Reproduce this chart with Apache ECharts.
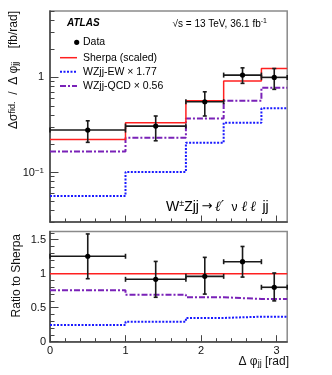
<!DOCTYPE html>
<html><head><meta charset="utf-8">
<script src="https://cdn.jsdelivr.net/npm/echarts@6/dist/echarts.min.js"></script>
<style>html,body{margin:0;padding:0;background:#fff}#c{width:332px;height:375px}</style>
</head><body><div id="c"></div>
<script>
// ---- data ----
const binEdges = [0, 1, 1.8, 2.3, 2.8, 3.1416];
const binCenters = [0.5, 1.4, 2.05, 2.55, 2.97];

const dataXsec = [0.279, 0.307, 0.554, 1.057, 1.0];
const dataXsecLow = [0.207, 0.215, 0.392, 0.865, 0.748];
const dataXsecHigh = [0.349, 0.392, 0.705, 1.26, 1.24];
const sherpaXsec = [0.222, 0.333, 0.567, 0.914, 1.24];
const ewXsec = [0.0562, 0.101, 0.205, 0.333, 0.472];
const qcdXsec = [0.166, 0.231, 0.370, 0.567, 0.778];

const dataRatio = [1.256, 0.917, 0.961, 1.176, 0.80];
const dataRatioLow = [0.926, 0.653, 0.70, 0.95, 0.60];
const dataRatioHigh = [1.584, 1.18, 1.24, 1.40, 1.01];
const sherpaRatio = [1, 1, 1, 1, 1];
const ewRatio = [0.246, 0.294, 0.349, 0.368, 0.368];
const qcdRatio = [0.756, 0.69, 0.653, 0.628, 0.628];

const xMajorTicks = [0, 1, 2, 3];
const xMinorTicks = [0.2, 0.4, 0.6, 0.8, 1.2, 1.4, 1.6, 1.8, 2.2, 2.4, 2.6, 2.8, 3.0];
const topMajorTicks = [0.1, 1];
const topMinorTicks = [0.03, 0.04, 0.05, 0.06, 0.07, 0.08, 0.09, 0.2, 0.3, 0.4, 0.5, 0.6, 0.7, 0.8, 0.9, 2, 3, 4, 5];
const ratioMajorTicks = [0, 0.5, 1, 1.5];
const ratioMinorTicks = [0.1, 0.2, 0.3, 0.4, 0.6, 0.7, 0.8, 0.9, 1.1, 1.2, 1.3, 1.4, 1.6];

const legendNames = ['Data', 'Sherpa (scaled)', 'WZjj-EW \u00d7 1.77', 'WZjj-QCD \u00d7 0.56'];

// ---- style ----
const FONT = '"Liberation Sans", Arial, Helvetica, sans-serif';
const RED = '#ff2020', BLUE = '#1a1aff', PURPLE = '#7a22b8';
const BLUE_DASH = [2, 1.5], PURPLE_DASH = [6, 2, 2, 2];

const chart = echarts.init(document.getElementById('c'), null, {renderer: 'canvas'});

function histData(vals) {
  return binEdges.map((e, i) => [e, vals[Math.min(i, vals.length - 1)]]);
}
function histSeries(name, vals, xi, yi, color, width, dash, z) {
  return {
    name, type: 'line', step: 'end', xAxisIndex: xi, yAxisIndex: yi,
    data: histData(vals), symbol: 'none', showSymbol: false, silent: true,
    animation: false, z: z || 2,
    lineStyle: {color, width, type: dash || 'solid', cap: 'butt'}
  };
}
function errSeries(vals, lows, highs, xi, yi) {
  const data = vals.map((v, i) => [binCenters[i], v, binEdges[i], binEdges[i + 1], lows[i], highs[i]]);
  return {
    type: 'custom', xAxisIndex: xi, yAxisIndex: yi, data, z: 10, silent: true, animation: false,
    encode: {x: [0, 2, 3], y: [1, 4, 5]},
    renderItem(params, api) {
      const c = api.coord([api.value(0), api.value(1)]);
      const l = api.coord([api.value(2), api.value(1)]);
      const r = api.coord([api.value(3), api.value(1)]);
      const lo = api.coord([api.value(0), api.value(4)]);
      const hi = api.coord([api.value(0), api.value(5)]);
      const st = {stroke: '#1a1a1a', lineWidth: 1.6};
      const cap = 2.5;
      return {type: 'group', children: [
        {type: 'line', shape: {x1: l[0], y1: c[1], x2: r[0], y2: c[1]}, style: st},
        {type: 'line', shape: {x1: l[0], y1: c[1] - cap, x2: l[0], y2: c[1] + cap}, style: st},
        {type: 'line', shape: {x1: r[0], y1: c[1] - cap, x2: r[0], y2: c[1] + cap}, style: st},
        {type: 'line', shape: {x1: c[0], y1: lo[1], x2: c[0], y2: hi[1]}, style: st},
        {type: 'line', shape: {x1: c[0] - 2, y1: lo[1], x2: c[0] + 2, y2: lo[1]}, style: st},
        {type: 'line', shape: {x1: c[0] - 2, y1: hi[1], x2: c[0] + 2, y2: hi[1]}, style: st},
        {type: 'circle', shape: {cx: c[0], cy: c[1], r: 2.6}, style: {fill: '#000'}}
      ]};
    }
  };
}

const AXCOL = '#444';
function xAxisDef(grid, major, labels) {
  return {
    type: 'value', gridIndex: grid, min: 0, max: 3.1416, position: 'bottom',
    axisLine: {show: major, onZero: false, lineStyle: {color: AXCOL, width: 1.5}},
    axisTick: {show: true, inside: true, length: major ? 6.5 : 3.5,
      customValues: major ? xMajorTicks : xMinorTicks, lineStyle: {color: AXCOL, width: 1}},
    axisLabel: {show: labels, customValues: xMajorTicks, margin: 4, fontSize: 11,
      fontFamily: FONT, color: '#111'},
    splitLine: {show: false}
  };
}
function txt(x, y, text, size, extra) {
  return {type: 'text', x, y, silent: true,
    style: Object.assign({text, fontFamily: FONT, fontSize: size, fill: '#000', textVerticalAlign: 'middle'}, extra || {})};
}

const richY = {
  m: {fontSize: 12, fontFamily: FONT, lineHeight: 12, verticalAlign: 'middle', fill: '#111'},
  sup: {fontSize: 9, fontFamily: FONT, lineHeight: 9, verticalAlign: 'top', fill: '#111'},
  sub: {fontSize: 9, fontFamily: FONT, lineHeight: 9, verticalAlign: 'bottom', fill: '#111'}
};

const option = {
  animation: false,
  backgroundColor: '#fff',
  grid: [
    {left: 50, top: 11, right: 44.8, height: 211, show: true, borderColor: '#8a8a8a', borderWidth: 1.5},
    {left: 50, top: 231.5, right: 44.8, height: 110.2, show: true, borderColor: '#8a8a8a', borderWidth: 1.5}
  ],
  xAxis: [
    xAxisDef(0, true, false),
    xAxisDef(0, false, false),
    xAxisDef(1, true, true),
    xAxisDef(1, false, false)
  ],
  yAxis: [
    {type: 'log', logBase: 10, gridIndex: 0, min: 0.03, max: 5, position: 'left',
      axisLine: {show: true, onZero: false, lineStyle: {color: AXCOL, width: 1.5}},
      axisTick: {show: true, inside: true, length: 8.5, customValues: topMajorTicks, lineStyle: {color: AXCOL}},
      axisLabel: {customValues: topMajorTicks, margin: 6, fontSize: 11, fontFamily: FONT, color: '#111',
        lineHeight: 16,
        formatter: v => v < 0.5 ? '{m|10}{sup|\u22121}' : '1',
        rich: {m: {fontSize: 11, fontFamily: FONT, lineHeight: 12, verticalAlign: 'bottom', color: '#111'},
               sup: {fontSize: 8, fontFamily: FONT, lineHeight: 8, verticalAlign: 'top', color: '#111'}}},
      splitLine: {show: false}},
    {type: 'log', logBase: 10, gridIndex: 0, min: 0.03, max: 5, position: 'left',
      axisLine: {show: false},
      axisTick: {show: true, inside: true, length: 4.5, customValues: topMinorTicks, lineStyle: {color: AXCOL}},
      axisLabel: {show: false}, splitLine: {show: false}},
    {type: 'value', gridIndex: 1, min: 0, max: 1.62, position: 'left',
      axisLine: {show: true, onZero: false, lineStyle: {color: AXCOL, width: 1.5}},
      axisTick: {show: true, inside: true, length: 8.5, customValues: ratioMajorTicks, lineStyle: {color: AXCOL}},
      axisLabel: {customValues: ratioMajorTicks, margin: 4, fontSize: 11, fontFamily: FONT, color: '#111',
        formatter: v => String(v)},
      splitLine: {show: false}},
    {type: 'value', gridIndex: 1, min: 0, max: 1.62, position: 'left',
      axisLine: {show: false},
      axisTick: {show: true, inside: true, length: 4.5, customValues: ratioMinorTicks, lineStyle: {color: AXCOL}},
      axisLabel: {show: false}, splitLine: {show: false}}
  ],
  series: [
    histSeries(legendNames[2], ewXsec, 0, 0, BLUE, 2, BLUE_DASH, 3),
    histSeries(legendNames[3], qcdXsec, 0, 0, PURPLE, 2, PURPLE_DASH, 3),
    histSeries(legendNames[1], sherpaXsec, 0, 0, RED, 1.5, 'solid', 4),
    errSeries(dataXsec, dataXsecLow, dataXsecHigh, 0, 0),
    histSeries(legendNames[2], ewRatio, 2, 2, BLUE, 2, BLUE_DASH, 3),
    histSeries(legendNames[3], qcdRatio, 2, 2, PURPLE, 2, PURPLE_DASH, 3),
    histSeries(legendNames[1], sherpaRatio, 2, 2, RED, 1.5, 'solid', 4),
    errSeries(dataRatio, dataRatioLow, dataRatioHigh, 2, 2)
  ],
  graphic: [
    // y title (top)
    {type: 'text', x: 14, y: 11, rotation: Math.PI / 2, silent: true,
      style: {text: '{m|\u0394\u03c3}{sup|fid.}{m|  /  \u0394 \u03c6}{sub|jj}{m|    [fb/rad]}', textAlign: 'right', textVerticalAlign: 'middle',
        lineHeight: 22, fill: '#111', fontFamily: FONT, fontSize: 12, rich: richY}},
    // y title (ratio)
    {type: 'text', x: 17, y: 234, rotation: Math.PI / 2, silent: true,
      style: {text: 'Ratio to Sherpa', textAlign: 'right', textVerticalAlign: 'middle',
        fill: '#111', fontFamily: FONT, fontSize: 12}},
    // x title
    {type: 'text', x: 289, y: 362, silent: true,
      style: {text: '{m|\u0394 \u03c6}{sub|jj}{m| [rad]}', textAlign: 'right', textVerticalAlign: 'middle',
        lineHeight: 22, fill: '#111', fontFamily: FONT, fontSize: 12, rich: richY}},
    // ATLAS label
    txt(67, 23.5, 'ATLAS', 10, {fontWeight: 'bold', fontStyle: 'italic'}),
    // sqrt s
    txt(172.5, 23.5, '{m|\u221as = 13 TeV, 36.1 fb}{sup|-1}', 10, {lineHeight: 16,
      rich: {m: {fontSize: 10, fontFamily: FONT, lineHeight: 11, verticalAlign: 'bottom', fill: '#000'},
             sup: {fontSize: 7, fontFamily: FONT, lineHeight: 7, verticalAlign: 'top', fill: '#000'}}}),
    // process label, pieces
    txt(166, 207, '{m|W}{sup|\u00b1}{m|Zjj}', 14, {lineHeight: 20,
      rich: {m: {fontSize: 14, fontFamily: FONT, lineHeight: 15, verticalAlign: 'bottom', fill: '#000'},
             sup: {fontSize: 9, fontFamily: FONT, lineHeight: 9, verticalAlign: 'top', fill: '#000'}}}),
    txt(201.5, 206.5, '\u2192', 13, {fontFamily: '"DejaVu Sans", sans-serif'}),
    txt(215, 207, '\u2113\u2032', 14, {fontFamily: '"DejaVu Serif", serif', fontStyle: 'italic'}),
    txt(231.5, 208, '\u03bd', 12),
    txt(241.5, 207, '\u2113\u2009\u2113', 14, {fontFamily: '"DejaVu Serif", serif', fontStyle: 'italic'}),
    txt(262.5, 207, 'jj', 14),
    // legend
    {type: 'circle', shape: {cx: 76.7, cy: 42.3, r: 2.6}, style: {fill: '#000'}, silent: true},
    txt(83, 42.3, legendNames[0], 10.5),
    {type: 'line', shape: {x1: 60, y1: 57.7, x2: 77, y2: 57.7}, style: {stroke: RED, lineWidth: 1.5}, silent: true},
    txt(83, 57.7, legendNames[1], 10.5),
    {type: 'line', shape: {x1: 60, y1: 71.8, x2: 77, y2: 71.8}, style: {stroke: BLUE, lineWidth: 2, lineDash: BLUE_DASH}, silent: true},
    txt(83, 71.8, legendNames[2], 10.5),
    {type: 'line', shape: {x1: 60, y1: 86, x2: 77, y2: 86}, style: {stroke: PURPLE, lineWidth: 2, lineDash: PURPLE_DASH}, silent: true},
    txt(83, 86, legendNames[3], 10.5)
  ]
};
chart.setOption(option);
</script></body></html>
